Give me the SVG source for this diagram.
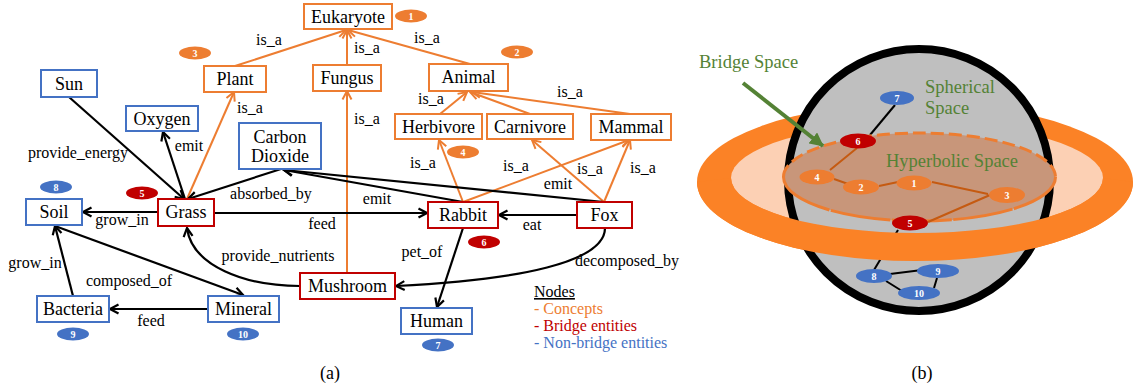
<svg xmlns="http://www.w3.org/2000/svg" width="1133" height="392" viewBox="0 0 1133 392" font-family="'Liberation Serif', 'Times New Roman', serif">
<defs>
<style>
text{font-family:'Liberation Serif','Times New Roman',serif}
.box{fill:#fff;stroke-width:2}
.c{stroke:#ed7d31}.b{stroke:#c00000}.n{stroke:#4472c4}
.t{font-size:18px;fill:#000;text-anchor:middle}
.l{font-size:16px;fill:#000;text-anchor:middle}
.eb{fill:none;stroke:#000;stroke-width:2.2}
.eo{fill:none;stroke:#ed7d31;stroke-width:2}
.bt{font-size:10px;font-weight:bold;fill:#fff;text-anchor:middle}
.bo{fill:#ed7d31}.br{fill:#c00000}.bb{fill:#4472c4}
.hv{stroke:#c55a11;stroke-width:2;fill:none}
.gt{font-size:18.5px;fill:#548235}
</style>
<marker id="ab" viewBox="0 0 12 12" refX="10.5" refY="6" markerWidth="12" markerHeight="12" orient="auto" markerUnits="userSpaceOnUse"><path d="M2,1.5 L10.5,6 L2,10.5" fill="none" stroke="#000" stroke-width="2.2"/></marker>
<marker id="ao" viewBox="0 0 12 12" refX="10.5" refY="6" markerWidth="12" markerHeight="12" orient="auto" markerUnits="userSpaceOnUse"><path d="M2,1.5 L10.5,6 L2,10.5" fill="none" stroke="#ed7d31" stroke-width="2"/></marker>
<marker id="ag" viewBox="0 0 14 14" refX="13" refY="7" markerWidth="14" markerHeight="14" orient="auto" markerUnits="userSpaceOnUse"><path d="M0,0 L14,7 L0,14 Z" fill="#548235"/></marker>
</defs>
<rect width="1133" height="392" fill="#fff"/>

<g id="connectors">
<path class="eo" marker-end="url(#ao)" d="M235,66 L346,30"/>
<path class="eo" marker-end="url(#ao)" d="M347,65 L347,30"/>
<path class="eo" marker-end="url(#ao)" d="M470,64 L348,30"/>
<path class="eo" marker-end="url(#ao)" d="M440,114 L467,92"/>
<path class="eo" marker-end="url(#ao)" d="M530,114 L470,92"/>
<path class="eo" marker-end="url(#ao)" d="M630,114 L472,92"/>
<path class="eo" marker-end="url(#ao)" d="M347,273 L347,91"/>
<path class="eo" marker-end="url(#ao)" d="M187,199 L234,92"/>
<path class="eo" marker-end="url(#ao)" d="M463,202 L439,140"/>
<path class="eo" marker-end="url(#ao)" d="M463,202 L629,140"/>
<path class="eo" marker-end="url(#ao)" d="M604,202 L532,140"/>
<path class="eo" marker-end="url(#ao)" d="M604,202 L630,140"/>
<path class="eb" marker-end="url(#ab)" d="M69,97 L184,199"/>
<path class="eb" marker-end="url(#ab)" d="M185,199 L163,132"/>
<path class="eb" marker-end="url(#ab)" d="M281,169 L188,199"/>
<path class="eb" marker-end="url(#ab)" d="M463,202 L284,170"/>
<path class="eb" marker-end="url(#ab)" d="M604,202 L284,170"/>
<path class="eb" marker-end="url(#ab)" d="M214,213 L427,213"/>
<path class="eb" marker-end="url(#ab)" d="M577,215 L499,215"/>
<path class="eb" marker-end="url(#ab)" d="M158,212 L83,212"/>
<path class="eb" marker-end="url(#ab)" d="M73,296 L55,226"/>
<path class="eb" marker-end="url(#ab)" d="M55,226 L243,295"/>
<path class="eb" marker-end="url(#ab)" d="M208,309 L110,309"/>
<path class="eb" marker-end="url(#ab)" d="M300,286 C245,286 192,266 187,228"/>
<path class="eb" marker-end="url(#ab)" d="M463,228 L437,307"/>
<path class="eb" marker-end="url(#ab)" d="M605,228 C605,262 520,280 396,286"/>
<text class="l" x="269" y="45">is_a</text>
<text class="l" x="367" y="53">is_a</text>
<text class="l" x="427" y="43">is_a</text>
<text class="l" x="431" y="104">is_a</text>
<text class="l" x="570" y="97">is_a</text>
<text class="l" x="367" y="124">is_a</text>
<text class="l" x="250" y="113">is_a</text>
<text class="l" x="423" y="168">is_a</text>
<text class="l" x="516" y="171">is_a</text>
<text class="l" x="590" y="174">is_a</text>
<text class="l" x="643" y="173">is_a</text>
<text class="l" x="78" y="158">provide_energy</text>
<text class="l" x="189" y="151">emit</text>
<text class="l" x="271" y="199">absorbed_by</text>
<text class="l" x="377" y="204">emit</text>
<text class="l" x="558" y="189">emit</text>
<text class="l" x="322" y="229">feed</text>
<text class="l" x="532" y="230">eat</text>
<text class="l" x="122" y="225">grow_in</text>
<text class="l" x="35" y="268">grow_in</text>
<text class="l" x="129" y="286">composed_of</text>
<text class="l" x="151" y="326">feed</text>
<text class="l" x="278" y="261">provide_nutrients</text>
<text class="l" x="422" y="257">pet_of</text>
<text class="l" x="627" y="266">decomposed_by</text>
</g>

<g id="eukaryote"><rect class="box c" x="304" y="4" width="88" height="25"/><text class="t" x="348" y="23">Eukaryote</text><ellipse class="bo" cx="411" cy="16" rx="16" ry="6.5"/><text class="bt" x="411" y="19.5">1</text></g>
<g id="plant"><rect class="box c" x="204" y="66" width="62" height="26"/><text class="t" x="235" y="85">Plant</text><ellipse class="bo" cx="195" cy="53" rx="16" ry="6.5"/><text class="bt" x="195" y="56.5">3</text></g>
<g id="fungus"><rect class="box c" x="313" y="65" width="68" height="26"/><text class="t" x="347" y="84">Fungus</text></g>
<g id="animal"><rect class="box c" x="429" y="64" width="79" height="27"/><text class="t" x="468.5" y="83">Animal</text><ellipse class="bo" cx="517" cy="52" rx="16" ry="6.5"/><text class="bt" x="517" y="55.5">2</text></g>
<g id="herbivore"><rect class="box c" x="395" y="114" width="87" height="25"/><text class="t" x="438.5" y="133">Herbivore</text><ellipse class="bo" cx="463" cy="152" rx="16" ry="6.5"/><text class="bt" x="463" y="155.5">4</text></g>
<g id="carnivore"><rect class="box c" x="487" y="114" width="86" height="25"/><text class="t" x="530" y="133">Carnivore</text></g>
<g id="mammal"><rect class="box c" x="591" y="114" width="80" height="26"/><text class="t" x="631" y="133">Mammal</text></g>
<g id="sun"><rect class="box n" x="41" y="70" width="56" height="27"/><text class="t" x="69" y="90">Sun</text></g>
<g id="oxygen"><rect class="box n" x="126" y="106" width="72" height="25"/><text class="t" x="162" y="125">Oxygen</text></g>
<g id="carbon-dioxide"><rect class="box n" x="239" y="123" width="82" height="46"/><text class="t" x="280" y="143">Carbon</text><text class="t" x="280" y="162">Dioxide</text></g>
<g id="soil"><rect class="box n" x="26" y="199" width="56" height="26"/><text class="t" x="54" y="218">Soil</text><ellipse class="bb" cx="56" cy="187" rx="16" ry="6.5"/><text class="bt" x="56" y="190.5">8</text></g>
<g id="grass"><rect class="box b" x="158" y="199" width="56" height="27"/><text class="t" x="186" y="218">Grass</text><ellipse class="br" cx="142" cy="193" rx="16" ry="6.5"/><text class="bt" x="142" y="196.5">5</text></g>
<g id="rabbit"><rect class="box b" x="428" y="202" width="70" height="26"/><text class="t" x="463" y="221">Rabbit</text><ellipse class="br" cx="484" cy="242" rx="16" ry="6.5"/><text class="bt" x="484" y="245.5">6</text></g>
<g id="fox"><rect class="box b" x="577" y="202" width="55" height="26"/><text class="t" x="604.5" y="221">Fox</text></g>
<g id="mushroom"><rect class="box b" x="300" y="273" width="95" height="26"/><text class="t" x="347.5" y="292">Mushroom</text></g>
<g id="human"><rect class="box n" x="401" y="308" width="71" height="26"/><text class="t" x="436.5" y="327">Human</text><ellipse class="bb" cx="438" cy="345" rx="16" ry="6.5"/><text class="bt" x="438" y="348.5">7</text></g>
<g id="bacteria"><rect class="box n" x="37" y="296" width="72" height="26"/><text class="t" x="73" y="315">Bacteria</text><ellipse class="bb" cx="73" cy="334" rx="16" ry="6.5"/><text class="bt" x="73" y="337.5">9</text></g>
<g id="mineral"><rect class="box n" x="208" y="296" width="71" height="26"/><text class="t" x="243.5" y="315">Mineral</text><ellipse class="bb" cx="243" cy="334" rx="16" ry="6.5"/><text class="bt" x="243" y="337.5">10</text></g>

<g id="legend">
<text x="534" y="297" text-decoration="underline" fill="#000" font-size="16">Nodes</text>
<text x="534" y="314" fill="#ed7d31" font-size="16">- Concepts</text>
<text x="534" y="331" fill="#c00000" font-size="16">- Bridge entities</text>
<text x="534" y="348" fill="#4472c4" font-size="16">- Non-bridge entities</text>
</g>
<text class="t" x="330" y="379">(a)</text>

<g id="panel-b">
<ellipse cx="915" cy="182" rx="218" ry="79" fill="#fb8226"/>
<ellipse cx="917" cy="178" rx="186" ry="55" fill="#fcd0b4"/>
<ellipse cx="919" cy="180" rx="131" ry="131" fill="#bfbfbf" stroke="#000" stroke-width="8"/>
<line x1="895" y1="105" x2="870" y2="135" stroke="#000" stroke-width="2"/>
<ellipse cx="919.5" cy="177" rx="136" ry="44" fill="#c8967a"/>
<path d="M783.5,177 A136,44 0 0 1 1055.5,177" fill="none" stroke="#ed7d31" stroke-width="3" stroke-dasharray="13 5"/>
<path d="M783.5,177 A136,44 0 0 0 1055.5,177" fill="none" stroke="#ed7d31" stroke-width="3" stroke-dasharray="60 1.5"/>
<path class="hv" d="M857,148 L830,170 M834,179 L851,185 M879,186 L898,182 M932,182 L988,194 M990,195 L928,222"/>
<ellipse class="br" cx="858" cy="141" rx="18" ry="7.5"/><text class="bt" x="858" y="145" font-size="11">6</text>
<ellipse class="bo" cx="817" cy="177" rx="17.5" ry="7.5"/><text class="bt" x="817" y="181" font-size="11">4</text>
<ellipse class="bo" cx="861" cy="187" rx="18" ry="7.5"/><text class="bt" x="861" y="191" font-size="11">2</text>
<ellipse class="bo" cx="914" cy="183" rx="17.5" ry="7.5"/><text class="bt" x="914" y="187" font-size="11">1</text>
<ellipse class="bo" cx="1007" cy="195" rx="18" ry="8"/><text class="bt" x="1007" y="199" font-size="11">3</text>
<line x1="898" y1="230" x2="874" y2="270" stroke="#000" stroke-width="2"/>
<ellipse class="br" cx="910" cy="223" rx="18" ry="7.5"/><text class="bt" x="910" y="227" font-size="11">5</text>
<path d="M697,182 A218,79 0 0 0 1133,182 L1103,178 A186,55 0 0 1 731,178 Z" fill="#fb8226"/>
<ellipse class="bb" cx="897" cy="98" rx="17" ry="7"/><text class="bt" x="897" y="102" font-size="11">7</text>
<path d="M890,274 L922,270 M886,281 L902,291 M937,278 L934,288" stroke="#000" stroke-width="2" fill="none"/>
<ellipse class="bb" cx="874" cy="276" rx="18" ry="7"/><text class="bt" x="874" y="280" font-size="11">8</text>
<ellipse class="bb" cx="938" cy="271" rx="21" ry="7"/><text class="bt" x="938" y="275" font-size="11">9</text>
<ellipse class="bb" cx="919" cy="293" rx="21" ry="7"/><text class="bt" x="919" y="297" font-size="11">10</text>
<text class="gt" x="699" y="68">Bridge Space</text>
<text class="gt" x="925" y="93">Spherical</text>
<text class="gt" x="925" y="114">Space</text>
<text class="gt" x="886" y="167">Hyperbolic Space</text>
<line x1="743" y1="83" x2="823" y2="146" stroke="#548235" stroke-width="4" marker-end="url(#ag)"/>
<text class="t" x="922" y="379">(b)</text>
</g>
</svg>
